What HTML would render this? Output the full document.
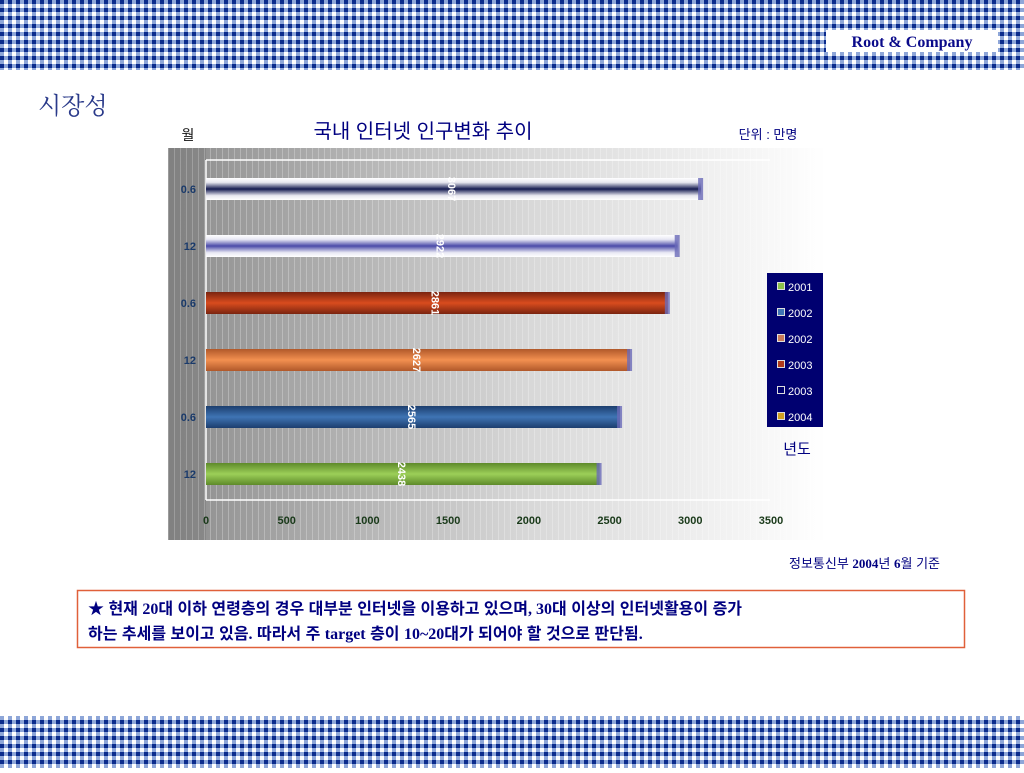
<!DOCTYPE html>
<html><head><meta charset="utf-8"><style>
body{margin:0;width:1024px;height:768px;overflow:hidden;background:#fff;font-family:"Liberation Sans","Noto Sans CJK KR",sans-serif;}
</style></head><body>
<svg width="1024" height="768" xmlns="http://www.w3.org/2000/svg">
<defs>
<pattern id="ging" width="8" height="8" patternUnits="userSpaceOnUse">
<rect width="8" height="8" fill="#fff"/>
<rect x="0" y="0" width="8" height="4" fill="#8ea6d8"/>
<rect x="0" y="0" width="4" height="8" fill="#8ea6d8"/>
<rect x="0" y="0" width="4" height="4" fill="#0b2b8c"/>
</pattern>
<linearGradient id="bg" x1="0" x2="1" y1="0" y2="0"><stop offset="0" stop-color="#8c8c8c"/><stop offset="0.55" stop-color="#d8d8d8"/><stop offset="1" stop-color="#ffffff"/></linearGradient>
<pattern id="vl" width="6" height="10" patternUnits="userSpaceOnUse"><rect x="0" width="1" height="10" fill="#fff" opacity="0.25"/></pattern>
<linearGradient id="g0" x1="0" y1="0" x2="0" y2="1"><stop offset="0" stop-color="#fff"/><stop offset="0.2" stop-color="#e8e8f0"/><stop offset="0.5" stop-color="#141a50"/><stop offset="0.8" stop-color="#e8e8f0"/><stop offset="1" stop-color="#fff"/></linearGradient>
<linearGradient id="g1" x1="0" y1="0" x2="0" y2="1"><stop offset="0" stop-color="#fff"/><stop offset="0.2" stop-color="#e8e8f4"/><stop offset="0.5" stop-color="#4a4aa8"/><stop offset="0.8" stop-color="#e8e8f4"/><stop offset="1" stop-color="#fff"/></linearGradient>
<linearGradient id="g2" x1="0" y1="0" x2="0" y2="1"><stop offset="0" stop-color="#7a2410"/><stop offset="0.5" stop-color="#d94c1e"/><stop offset="1" stop-color="#7a2410"/></linearGradient>
<linearGradient id="g3" x1="0" y1="0" x2="0" y2="1"><stop offset="0" stop-color="#b0582a"/><stop offset="0.5" stop-color="#f29050"/><stop offset="1" stop-color="#b0582a"/></linearGradient>
<linearGradient id="g4" x1="0" y1="0" x2="0" y2="1"><stop offset="0" stop-color="#1c3e6e"/><stop offset="0.5" stop-color="#3f74b4"/><stop offset="1" stop-color="#1c3e6e"/></linearGradient>
<linearGradient id="g5" x1="0" y1="0" x2="0" y2="1"><stop offset="0" stop-color="#5e8a2a"/><stop offset="0.5" stop-color="#9ccf58"/><stop offset="1" stop-color="#5e8a2a"/></linearGradient>
</defs>
<rect x="0" y="0" width="1024" height="70" fill="url(#ging)"/>
<rect x="0" y="716" width="1024" height="52" fill="url(#ging)"/>
<rect x="826" y="30" width="172" height="22" fill="#fff"/>
<text x="912" y="47" text-anchor="middle" font-family="Liberation Serif,serif" font-weight="bold" font-size="16" fill="#0a0a8a">Root &amp; Company</text>
<text x="38" y="114" font-size="24" fill="#2a3a8a" font-family="Liberation Serif,'Noto Serif CJK SC',serif">시장성</text>
<text x="188" y="140" text-anchor="middle" font-size="14" fill="#111">월</text>
<text x="423" y="138" text-anchor="middle" font-size="20" fill="#000080">국내 인터넷 인구변화 추이</text>
<text x="768" y="139" text-anchor="middle" font-size="13" fill="#000080">단위 : 만명</text>
<rect x="168" y="148" width="658" height="392" fill="url(#bg)"/>
<rect x="168" y="148" width="658" height="392" fill="url(#vl)"/>
<rect x="168" y="148" width="38" height="392" fill="#000" opacity="0.08"/>
<polyline points="206,160 770,160" stroke="#fff" stroke-width="1.5" fill="none"/>
<line x1="206" y1="160" x2="206" y2="500" stroke="#fff" stroke-width="1.5"/>
<line x1="206" y1="500" x2="770" y2="500" stroke="#fff" stroke-width="1.5"/>
<g id="bars"></g>
<g id="xt"></g>
<rect x="767" y="273" width="56" height="154" fill="#000070"/>
<g id="leg"></g>
<text x="797" y="454" text-anchor="middle" font-size="15" fill="#000080">년도</text>
<text x="940" y="568" text-anchor="end" font-size="13" fill="#000080">정보통신부 <tspan font-family="Liberation Serif,serif" font-weight="bold">2004</tspan>년 <tspan font-family="Liberation Serif,serif" font-weight="bold">6</tspan>월 기준</text>
<rect x="77.5" y="590.5" width="887" height="57" fill="#fff" stroke="#e0603a" stroke-width="1.5"/>
<text x="88" y="614" font-size="16" font-weight="bold" fill="#000080">★ 현재 <tspan font-family="Liberation Serif,serif">20</tspan>대 이하 연령층의 경우 대부분 인터넷을 이용하고 있으며<tspan font-family="Liberation Serif,serif">, 30</tspan>대 이상의 인터넷활용이 증가</text>
<text x="88" y="639" font-size="16" font-weight="bold" fill="#000080">하는 추세를 보이고 있음<tspan font-family="Liberation Serif,serif">.</tspan> 따라서 주 <tspan font-family="Liberation Serif,serif">target</tspan> 층이 <tspan font-family="Liberation Serif,serif">10~20</tspan>대가 되어야 할 것으로 판단됨<tspan font-family="Liberation Serif,serif">.</tspan></text>
</svg>
<script>
const categories=["0.6","12","0.6","12","0.6","12"];
const values=[3067,2922,2861,2627,2565,2438];
const xTicks=[0,500,1000,1500,2000,2500,3000,3500];
const legendLabels=["2001","2002","2002","2003","2003","2004"];
const legendColors=["#8cc04a","#3f74b4","#c87a5a","#b03a1a","#000070","#d0a020"];
const NS="http://www.w3.org/2000/svg";
const x0=206,xs=(771-206)/3500;
const X=v=>x0+v*xs;
const Y=i=>189+i*57;
function mk(t,a,p){const e=document.createElementNS(NS,t);for(const k in a)e.setAttribute(k,a[k]);p.appendChild(e);return e;}
const bars=document.getElementById('bars');
values.forEach((v,i)=>{
  const b=mk('rect',{x:x0,y:Y(i)-11,width:X(v)-x0,height:22,fill:'url(#g'+i+')'},bars);
  
  
  const c=mk('rect',{x:X(v)-3,y:Y(i)-11,width:5,height:22,fill:'#6a6ab8',opacity:0.8},bars);
  
  
  const tx=X(v*0.495);
  const t=mk('text',{x:tx,y:Y(i),transform:'rotate(90 '+tx+' '+Y(i)+')','text-anchor':'middle','dominant-baseline':'middle','font-size':11,'font-weight':'bold',fill:'#fff'},bars);
  t.textContent=v;
  
  
  const l=mk('text',{x:196,y:Y(i)+4,'text-anchor':'end','font-size':11,'font-weight':'bold',fill:'#1a3a6a'},bars);
  l.textContent=categories[i];
  
  
});
const xt=document.getElementById('xt');
xTicks.forEach(v=>{
  const t=mk('text',{x:X(v),y:524,'text-anchor':'middle','font-size':11,'font-weight':'bold',fill:'#1a3a1a'},xt);
  t.textContent=v;
  
  
});
const leg=document.getElementById('leg');
legendLabels.forEach((s,i)=>{
  const y=287+i*26;
  const r=mk('rect',{x:777.5,y:y-4.5,width:7,height:7,fill:legendColors[i],stroke:'#ddd','stroke-width':1},leg);
  
  
  const t=mk('text',{x:788,y:y+4,'font-size':11,fill:'#fff'},leg);
  t.textContent=s;
  
  
});
</script>
</body></html>
